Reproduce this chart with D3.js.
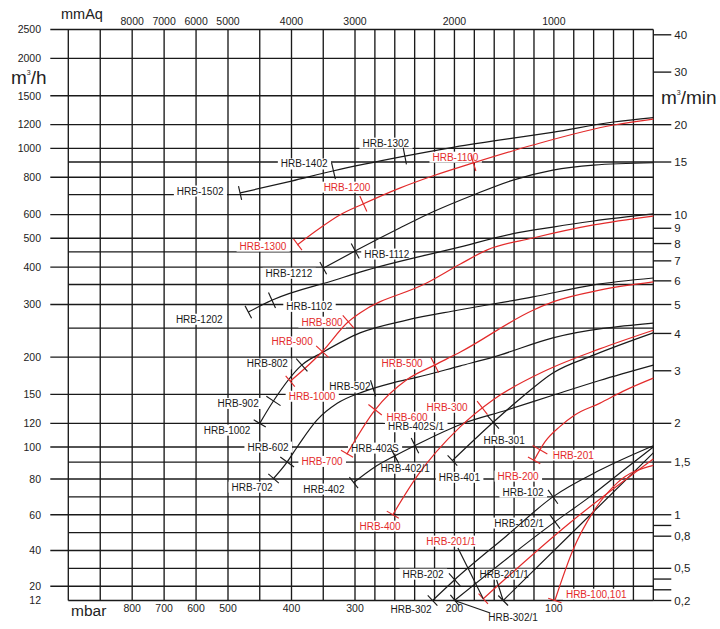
<!DOCTYPE html>
<html><head><meta charset="utf-8">
<script src="https://cdn.jsdelivr.net/npm/d3@7"></script>
<style>body{margin:0;background:#fff}svg{display:block;font-family:"Liberation Sans",Arial,Helvetica,sans-serif}</style>
</head><body><svg id="c" width="720" height="629"></svg>
<script>
// ---------- axis data ----------
const mbarGrid = [1000,900,800,700,600,500,450,400,350,300,280,260,240,220,200,180,160,140,120,100,80,60,40,20,0];
const mbarLabels = [800,700,600,500,400,300,200,100];
const mmAqLabels = [8000,7000,6000,5000,4000,3000,2000,1000];
const flowLabels = [2500,2000,1500,1200,1000,800,600,500,400,300,200,150,120,100,80,60,40,20,12];
const flowMinor = [900,700,450,350,250,90,70,50,30];
const minLabels = [40,30,20,15,10,9,8,7,6,5,4,3,2,1.5,1,0.8,0.5,0.2];
const minMinor = [0.9,0.4,0.3];

// ---------- curve data: [pressure mbar, flow m3/h] ----------
const hrb1302 = [[481,709],[400,777],[335,840],[250,942],[200,1010],[100,1134],[40,1225],[0,1268]];
const hrb1112 = [[350,397],[300,453],[255,541],[222,612],[181,698],[141,783],[101,846],[60,879],[0,895]];
const hrb1102 = [[468,283],[431,310],[330,363],[295,385],[195,467],[142,517],[101,545],[60,571],[0,603]];
const hrb802  = [[450,120],[429,142],[384,188],[350,208],[295,241],[248,266],[197,287],[121,318],[60,349],[0,368]];
const hrb502  = [[429,80],[407,90],[391,100],[360,123],[328,140],[292,153],[262,164],[238,171],[194,187],[161,200],[101,232],[0,260]];
const hrb301  = [[202,91],[161,121],[134,145],[101,177],[60,203],[0,241]];
const hrb402  = [[302,78],[280,87],[260,94],[240,101],[194,119],[147,133],[101,149],[54,167],[0,188]];
const hrb102  = [[222,12],[200,23.5],[148,48],[101,70],[54,85],[0,101]];
const hrb102_1 = [[200,12],[99,56],[64,70],[30,85],[0,100]];
const hrb201_1b = [[151,12],[76,53],[0,96]];
const hrb1100 = [[391,475],[355,541],[324,598],[292,651],[255,736],[222,808],[181,894],[121,1026],[40,1197],[0,1253]];
const hrb800  = [[402,166],[352,208],[311,262],[295,281],[228,354],[194,410],[167,457],[121,501],[60,554],[0,593]];
const hrb500  = [[313,95],[280,133],[248,168],[220,188],[194,208],[121,287],[101,306],[54,335],[0,357]];
const hrb300  = [[262,60],[237,82],[194,117],[161,144],[107,181],[54,213],[0,246]];
const hrb201  = [[120,91],[109,104],[94,117],[79,128],[54,140],[28,155],[0,170]];
const hrb201_1r = [[171,13],[85,55],[0,92]];
const hrb100  = [[99,12],[81,40],[60,62],[36,78],[0,88]];

// marks (pressure where a model's limit tick sits)
const curveTable = [
  {pts: hrb1302, col: "k", marks: [481,335,250]},
  {pts: hrb1112, col: "k", marks: [350,300]},
  {pts: hrb1102, col: "k", marks: [468,431]},
  {pts: hrb802,  col: "k", marks: [450,429,384]},
  {pts: hrb502,  col: "k", marks: [429,407,282]},
  {pts: hrb301,  col: "k", marks: [202,161]},
  {pts: hrb402,  col: "k", marks: [302,260,240]},
  {pts: hrb102,  col: "k", marks: [222,200,101]},
  {pts: hrb102_1, col: "k", marks: [200,99]},
  {pts: hrb201_1b, col: "k", marks: [151]},
  {pts: hrb1100, col: "r", marks: [391,292,181]},
  {pts: hrb800,  col: "r", marks: [402,352,311]},
  {pts: hrb500,  col: "r", marks: [313,280,220]},
  {pts: hrb300,  col: "r", marks: [262,172]},
  {pts: hrb201,  col: "r", marks: [120,114]},
  {pts: hrb201_1r, col: "r", marks: [171]},
  {pts: hrb100,  col: "r", marks: [99]}
];

// labels: [text, mbar, m3/h, colour]
const curveLabels = [
  ["HRB-1302",269,1042,"k"],["HRB-1402",380,887,"k"],["HRB-1502",587,720,"k"],
  ["HRB-1212",404,382,"k"],["HRB-1112",268,443,"k"],["HRB-1102",372,296,"k"],["HRB-1202",590,268,"k"],
  ["HRB-802",438,190,"k"],["HRB-902",484,140,"k"],["HRB-1002",503,114,"k"],
  ["HRB-502",308,159,"k"],["HRB-602",437,100,"k"],["HRB-702",462,75.5,"k"],
  ["HRB-402",349,74.4,"k"],["HRB-402S",280,99.3,"k"],["HRB-402S/1",238.6,117,"k"],["HRB-402/1",249.6,86.3,"k"],
  ["HRB-301",150,105.5,"k"],["HRB-401",195,81,"k"],["HRB-102",131,72.7,"k"],["HRB-102/1",135,55.4,"k"],
  ["HRB-202",231.5,26.8,"k"],["HRB-302",243.6,7.2,"k"],["HRB-302/1",141,2.8,"k"],["HRB-201/1",150,26.8,"k"],
  ["HRB-1100",199,935,"r"],["HRB-1200",312.6,742,"r"],["HRB-1300",445,471,"r"],
  ["HRB-800",352,262,"r"],["HRB-900",399,225,"r"],["HRB-1000",367.7,148,"r"],
  ["HRB-500",252.7,190,"r"],["HRB-600",247.7,126,"r"],["HRB-700",352,90.5,"r"],
  ["HRB-300",207.4,136,"r"],["HRB-400",274.8,53.7,"r"],["HRB-201",80.5,94.6,"r"],["HRB-200",136,81.7,"r"],
  ["HRB-201/1",203.4,45.3,"r"],["HRB-100,101",57.4,15.6,"r"]
];
// leader lines: [from mbar, from m3/h, to mbar, to m3/h]
const leaders = [
  [196.5,41.4,171,13],
  [157.6,23.5,151,12],
  [200,12,164,5]
];

// ---------- scales ----------
const W = 720, H = 629;
const x = d3.scaleLinear().domain([1000,500,300,0]).range([68.3,228,355,653.3]);
const yLog = d3.scaleLog().domain([80,100,2500]).range([479,447,29.5]);
const yLin = d3.scaleLinear().domain([12,80]).range([600.5,479]);
const y = v => v >= 80 ? yLog(v) : yLin(v);
const ink = "#1a1a1a", red = "#e32b2b";
const colOf = c => c === "r" ? red : ink;

const svg = d3.select("#c");
svg.append("rect").attr("width",W).attr("height",H).attr("fill","#fff");
const gGrid = svg.append("g").attr("stroke", ink).attr("stroke-width", 1.35);
const gBox = svg.append("g");
const gCurve = svg.append("g").attr("fill","none").attr("stroke-width",1.2);
const gMark = svg.append("g").attr("stroke-width",1.15);
const gText = svg.append("g");
const gAxisText = svg.append("g").attr("fill", "#222");

// grid
mbarGrid.forEach(m => gGrid.append("line").attr("x1",x(m)).attr("x2",x(m)).attr("y1",y(2500)).attr("y2",y(12)));
flowLabels.forEach(v => gGrid.append("line").attr("x1", v === 12 ? x(1000) : x(1000) - 18).attr("x2", x(0)).attr("y1", y(v)).attr("y2", y(v)));
flowMinor.forEach(v => gGrid.append("line").attr("x1", x(1000)).attr("x2", x(0)).attr("y1", y(v)).attr("y2", y(v)));
minLabels.concat(minMinor).forEach(v => gGrid.append("line").attr("x1", x(0)).attr("x2", x(0) + 18).attr("y1", y(v*60)).attr("y2", y(v*60)));

// axis labels
gAxisText.selectAll(".fl").data(flowLabels).join("text").attr("x",41).attr("y",d=>y(d)).attr("dy","0.36em")
  .attr("text-anchor","end").attr("font-size",10.5).text(d=>d);
gAxisText.selectAll(".ml").data(mbarLabels).join("text").attr("x",d=>x(d)).attr("y",608).attr("dy","0.36em")
  .attr("text-anchor","middle").attr("font-size",10.5).text(d=>d);
gAxisText.selectAll(".ma").data(mmAqLabels).join("text").attr("x",d=>x(d/10)).attr("y",21.5).attr("dy","0.36em")
  .attr("text-anchor","middle").attr("font-size",10.5).text(d=>d);
gAxisText.selectAll(".mn").data(minLabels).join("text").attr("x",x(0)+21).attr("y",d=>y(d*60)).attr("dy","0.36em")
  .attr("font-size",11.5).text(d=>String(d).replace(".",","));
gAxisText.append("text").attr("x",61).attr("y",18.5).attr("font-size",14.5).text("mmAq");
gAxisText.append("text").attr("x",71).attr("y",616).attr("font-size",15.5).text("mbar");
const t1 = gAxisText.append("text").attr("x",11).attr("y",83.5).attr("font-size",19);
t1.append("tspan").text("m"); t1.append("tspan").attr("font-size",7).attr("dy",-9).text("3"); t1.append("tspan").attr("dy",9).text("/h");
const t2 = gAxisText.append("text").attr("x",661).attr("y",103.5).attr("font-size",19);
t2.append("tspan").text("m"); t2.append("tspan").attr("font-size",7).attr("dy",-9).text("3"); t2.append("tspan").attr("dy",9).text("/min");

// curves
const line = d3.line().x(d=>x(d[0])).y(d=>y(d[1])).curve(d3.curveMonotoneX);
function sample(path){
  const L = path.getTotalLength(), s = [];
  for (let i=0;i<=600;i++){ const p = path.getPointAtLength(L*i/600); s.push([p.x,p.y]); }
  return s;
}
function at(s, px){
  let i = s.findIndex(p => p[0] >= px);
  if (i < 0) i = s.length-1;
  const a = s[Math.max(0,i-4)], b = s[Math.min(s.length-1,i+4)];
  return {x: s[i][0], y: s[i][1], dx: b[0]-a[0], dy: b[1]-a[1]};
}
curveTable.forEach(c => {
  const pts = c.pts.slice().sort((a,b)=>b[0]-a[0]);
  const p = gCurve.append("path").attr("d", line(pts)).attr("stroke", colOf(c.col));
  const s = sample(p.node());
  c.marks.forEach((m,k) => {
    const q = at(s, x(m));
    const n = Math.hypot(q.dx,q.dy) || 1;
    const ux = -q.dy/n, uy = q.dx/n;
    const len = (k === 0) ? 7 : 8.5;
    gMark.append("line").attr("x1", q.x - ux*len).attr("y1", q.y - uy*len)
      .attr("x2", q.x + ux*len).attr("y2", q.y + uy*len).attr("stroke", colOf(c.col));
  });
});
leaders.forEach(l => gMark.append("line").attr("x1",x(l[0])).attr("y1",y(l[1])).attr("x2",x(l[2])).attr("y2",y(l[3])).attr("stroke",ink));

// labels with white boxes
curveLabels.forEach(d => {
  const t = gText.append("text").attr("x", x(d[1])).attr("y", y(d[2])).attr("dy","0.36em")
    .attr("text-anchor","middle").attr("font-size",10).attr("fill", colOf(d[3])).text(d[0]);
  const b = t.node().getBBox();
  gBox.append("rect").attr("x", b.x-3).attr("y", b.y).attr("width", b.width+6).attr("height", b.height).attr("fill","#fff");
});
</script></body></html>
